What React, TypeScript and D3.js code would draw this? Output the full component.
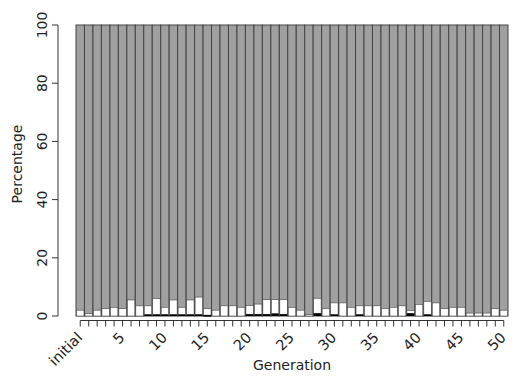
import React, { useEffect, useRef } from "react";
import * as d3 from "d3";

// generations: "initial" then 1..50
const generations: string[] = ["initial"].concat(d3.range(1, 51).map(String));

// percentage in the bottom (black) class
const blackPct: number[] = [
  0, 0, 0, 0, 0, 0, 0, 0, 0.5, 0.5, 0.5, 0.5, 0.5, 0.5, 0.5, 0.3, 0,
  0, 0, 0, 0.6, 0.6, 0.6, 0.8, 0.6, 0, 0, 0, 0.9, 0, 0.5,
  0, 0, 0.5, 0, 0, 0, 0, 0, 0.9, 0, 0.5, 0, 0, 0, 0, 0, 0, 0, 0, 0,
];

// percentage in the white class (stacked on top of black)
const whitePct: number[] = [
  2, 0.8, 2, 2.5, 3, 2.5, 5.5, 3.5, 3, 5.5, 2.5, 5, 2.5, 5, 6, 2.2, 2,
  3.5, 3.5, 3, 3, 3.5, 5, 4.8, 5, 3, 2, 0.5, 5.2, 2.5, 4,
  4.5, 3, 3, 3.5, 3.5, 2.5, 3, 3.5, 1, 4, 4.5, 4.5, 2.5, 3, 3, 1, 1, 1, 2.5, 2,
];

const yTicks = [0, 20, 40, 60, 80, 100];
const labelled = ["initial", "5", "10", "15", "20", "25", "30", "35", "40", "45", "50"];

const W = 515;
const H = 379;
const m = { left: 76, right: 7, top: 25, bottom: 63 };

export default function App() {
  const ref = useRef<SVGSVGElement>(null);

  useEffect(() => {
    const svg = d3.select(ref.current);
    svg.selectAll("*").remove();

    const x = d3
      .scaleBand()
      .domain(generations)
      .range([m.left, W - m.right])
      .padding(0);
    const y = d3.scaleLinear().domain([0, 100]).range([H - m.bottom, m.top]);

    const rows = generations.map((g, i) => ({
      g,
      black: blackPct[i],
      white: whitePct[i],
    }));

    const bars = svg.append("g");
    // gray (remainder) bar across the full height
    bars
      .selectAll(".gray")
      .data(rows)
      .join("rect")
      .attr("x", (d) => x(d.g)!)
      .attr("width", x.bandwidth())
      .attr("y", y(100))
      .attr("height", y(0) - y(100))
      .attr("fill", "#a0a0a0")
      .attr("stroke", "#444")
      .attr("stroke-width", 1);

    bars
      .selectAll(".white")
      .data(rows)
      .join("rect")
      .attr("x", (d) => x(d.g)! + 0.5)
      .attr("width", x.bandwidth() - 1)
      .attr("y", (d) => y(d.black + d.white))
      .attr("height", (d) => y(d.black) - y(d.black + d.white))
      .attr("fill", "#ffffff")
      .attr("stroke", "#444")
      .attr("stroke-width", 0.6);

    bars
      .selectAll(".black")
      .data(rows.filter((d) => d.black > 0))
      .join("rect")
      .attr("x", (d) => x(d.g)! + 0.5)
      .attr("width", x.bandwidth() - 1)
      .attr("y", (d) => y(d.black))
      .attr("height", (d) => Math.max(1.5, y(0) - y(d.black)))
      .attr("fill", "#000");

    const font = "DejaVu Sans, Verdana, sans-serif";

    // y axis
    const yAxis = svg.append("g").attr("transform", `translate(58,0)`);
    yAxis
      .append("line")
      .attr("y1", y(0))
      .attr("y2", y(100))
      .attr("stroke", "#333");
    yTicks.forEach((t) => {
      yAxis
        .append("line")
        .attr("x1", -6)
        .attr("x2", 0)
        .attr("y1", y(t))
        .attr("y2", y(t))
        .attr("stroke", "#333");
      yAxis
        .append("text")
        .attr("transform", `translate(-11,${y(t)}) rotate(-90)`)
        .attr("text-anchor", "middle")
        .attr("font-family", font)
        .attr("font-size", 14)
        .attr("fill", "#222")
        .text(t);
    });

    // x axis
    const ax = 320.5;
    const cx = (g: string) => x(g)! + x.bandwidth() / 2;
    const xAxis = svg.append("g");
    xAxis
      .append("line")
      .attr("x1", cx(generations[0]))
      .attr("x2", cx(generations[generations.length - 1]))
      .attr("y1", ax)
      .attr("y2", ax)
      .attr("stroke", "#333");
    generations.forEach((g) => {
      xAxis
        .append("line")
        .attr("x1", cx(g))
        .attr("x2", cx(g))
        .attr("y1", ax)
        .attr("y2", ax + 6)
        .attr("stroke", "#333");
    });
    labelled.forEach((g) => {
      xAxis
        .append("text")
        .attr("transform", `translate(${cx(g) + 3},${ax + 18}) rotate(-45)`)
        .attr("text-anchor", "end")
        .attr("font-family", font)
        .attr("font-size", 14.5)
        .attr("fill", "#222")
        .text(g);
    });

    svg
      .append("text")
      .attr("x", (m.left + W - m.right) / 2)
      .attr("y", 370)
      .attr("text-anchor", "middle")
      .attr("font-family", font)
      .attr("font-size", 14)
      .attr("fill", "#222")
      .text("Generation");

    svg
      .append("text")
      .attr("transform", `translate(22,164) rotate(-90)`)
      .attr("text-anchor", "middle")
      .attr("font-family", font)
      .attr("font-size", 14)
      .attr("fill", "#222")
      .text("Percentage");
  }, []);

  return (
    <svg
      ref={ref}
      width={W}
      height={H}
      style={{ position: "absolute", left: 0, top: 0, background: "#fff" }}
    />
  );
}
